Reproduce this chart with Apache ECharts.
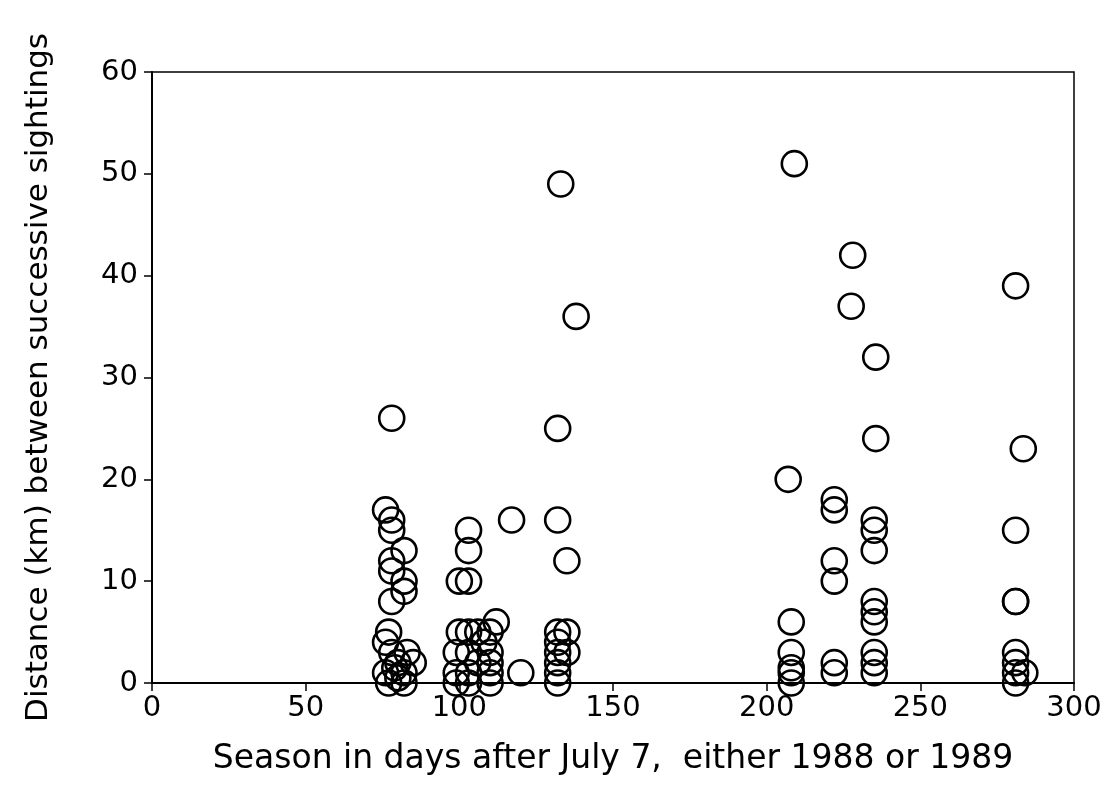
<!DOCTYPE html>
<html>
<head>
<meta charset="utf-8">
<script src="https://cdn.jsdelivr.net/npm/echarts@6/dist/echarts.min.js"></script>
<style>
html,body{margin:0;padding:0;background:#fff;}
#chart{width:1112px;height:799px;}
</style>
</head>
<body>
<div id="chart"></div>
<script>
// Season (days after July 7) for each sighting pair
const days = [
  78, 76, 78, 78, 82, 78, 78, 82, 82, 78,
  77, 76, 78, 83, 85, 80, 76, 79, 82, 77, 82, 80,
  100, 103, 103, 103, 117,
  100, 103, 106, 110, 112, 108,
  99, 103, 110, 99, 103, 110, 99, 103, 110, 120, 106, 110,
  133, 138, 132, 132, 135,
  132, 132, 132, 132, 132, 132, 135, 135,
  209, 207, 208, 208, 208, 208, 208,
  222, 222, 222, 222, 222, 222,
  228, 227.5, 235.5, 235.5, 235, 235, 235, 235, 235, 235, 235, 235, 235,
  281, 283.5, 281, 281, 281, 281, 281, 281, 281, 284
];
// Distance (km) between successive sightings
const distances = [
  26, 17, 16, 15, 13, 12, 11, 10, 9, 8,
  5, 4, 3, 3, 2, 2, 1, 1.5, 1, 0, 0, 0.5,
  10, 10, 13, 15, 16,
  5, 5, 5, 5, 6, 4,
  3, 3, 3, 1, 1, 1, 0, 0, 0, 1, 2, 2,
  49, 36, 25, 16, 12,
  5, 4, 3, 2, 1, 0, 5, 3,
  51, 20, 6, 3, 1.5, 1, 0,
  18, 17, 12, 10, 2, 1,
  42, 37, 32, 24, 16, 15, 13, 8, 7, 6, 3, 2, 1,
  39, 23, 15, 8, 8, 3, 2, 1, 0, 1
];
const xTicks = [0, 50, 100, 150, 200, 250, 300];
const yTicks = [0, 10, 20, 30, 40, 50, 60];
const xTitle = 'Season in days after July 7,  either 1988 or 1989';
const yTitle = 'Distance (km) between successive sightings';

const points = days.map((d, i) => [d, distances[i]]);
const FONT = 'DejaVu Sans';

const chart = echarts.init(document.getElementById('chart'), null, {renderer: 'canvas'});
chart.setOption({
  backgroundColor: '#fff',
  animation: false,
  grid: {
    left: 152, right: 38, top: 72, bottom: 116,
    show: true, borderColor: '#000', borderWidth: 1.5, containLabel: false
  },
  xAxis: {
    type: 'value',
    min: xTicks[0], max: xTicks[xTicks.length - 1], interval: 50,
    name: xTitle, nameLocation: 'middle', nameGap: 60,
    nameTextStyle: {fontFamily: FONT, fontSize: 33, color: '#000'},
    axisLine: {show: true, onZero: false, lineStyle: {color: '#000', width: 2}},
    axisTick: {show: true, inside: false, length: 8, lineStyle: {color: '#000', width: 1.5}},
    axisLabel: {fontFamily: FONT, fontSize: 29, color: '#000', margin: 11},
    splitLine: {show: false}
  },
  yAxis: {
    type: 'value',
    min: yTicks[0], max: yTicks[yTicks.length - 1], interval: 10,
    name: yTitle, nameLocation: 'middle', nameGap: 98, nameRotate: 90,
    nameTextStyle: {fontFamily: FONT, fontSize: 31, color: '#000'},
    axisLine: {show: true, onZero: false, lineStyle: {color: '#000', width: 2}},
    axisTick: {show: true, inside: false, length: 8, lineStyle: {color: '#000', width: 1.5}},
    axisLabel: {fontFamily: FONT, fontSize: 29, color: '#000', margin: 14},
    splitLine: {show: false}
  },
  series: [{
    type: 'scatter',
    data: points,
    symbol: 'circle',
    symbolSize: 25,
    itemStyle: {color: 'rgba(0,0,0,0)', borderColor: '#000', borderWidth: 2.6, opacity: 1}
  }]
});
</script>
</body>
</html>
